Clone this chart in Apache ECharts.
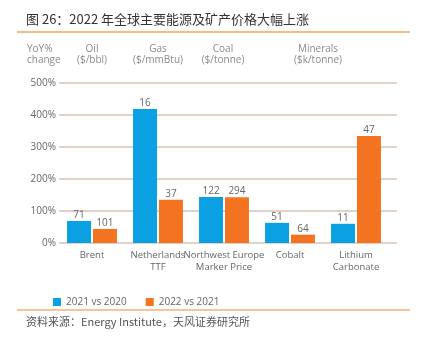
<!DOCTYPE html>
<html><head><meta charset="utf-8">
<script src="https://cdn.jsdelivr.net/npm/echarts@6/dist/echarts.min.js"></script>
<style>html,body{margin:0;padding:0;background:#fff;}#c{width:428px;height:339px;}</style>
</head><body><div id="c"></div>
<script>
const categories = ['Brent', 'Netherlands\nTTF', 'Northwest Europe\nMarker Price', 'Cobalt', 'Lithium\nCarbonate'];
const yoy2021 = [69, 419, 144, 63, 60];
const yoy2022 = [44, 135, 143, 26, 334];
const price2021 = [71, 16, 122, 51, 11];
const price2022 = [101, 37, 294, 64, 47];
const yTicks = [0, 100, 200, 300, 400, 500];
const seriesNames = ['2021 vs 2020', '2022 vs 2021'];
const headers = [
  {text: 'YoY%\nchange', x: 27, align: 'left'},
  {text: 'Oil\n($/bbl)', x: 92, align: 'center'},
  {text: 'Gas\n($/mmBtu)', x: 158, align: 'center'},
  {text: 'Coal\n($/tonne)', x: 223, align: 'center'},
  {text: 'Minerals\n($k/tonne)', x: 318, align: 'center'}
];
const blue = '#0AA0E2', orange = '#F47321', grey = '#666';
const font = '"Open Sans", "Noto Sans", sans-serif';
const chart = echarts.init(document.getElementById('c'), null, {renderer: 'canvas'});
const gTop = 83, gBottom = 339 - 243;
chart.setOption({
  animation: false,
  textStyle: {fontFamily: font},
  grid: [
    {left: 59, width: 330, top: gTop, bottom: gBottom},
    {left: 59, width: 338, top: gTop, bottom: gBottom}
  ],
  legend: {
    left: 48, top: 292, itemWidth: 8, itemHeight: 8, itemGap: 19, icon: 'rect',
    data: seriesNames,
    textStyle: {fontSize: 10, color: grey, fontFamily: font}
  },
  xAxis: [
    {type: 'category', gridIndex: 0, data: categories,
      axisLine: {show: false}, axisTick: {show: false},
      axisLabel: {fontSize: 9.5, color: grey, margin: 6, lineHeight: 12, interval: 0}},
    {type: 'category', gridIndex: 1, data: categories, show: false}
  ],
  yAxis: [
    {type: 'value', gridIndex: 0, min: 0, max: 500, interval: 100, show: false, splitLine: {show: false}},
    {type: 'value', gridIndex: 1, min: 0, max: 500, interval: 100,
      axisLine: {show: false}, axisTick: {show: false},
      axisLabel: {fontSize: 10, color: grey, margin: 3, formatter: v => yTicks.includes(v) ? v + '%' : ''},
      splitLine: {lineStyle: {color: '#DDD3CA', width: 2}}}
  ],
  series: [
    {name: seriesNames[0], type: 'bar', xAxisIndex: 0, yAxisIndex: 0, data: yoy2021,
      barWidth: 24, barGap: '8%', itemStyle: {color: blue},
      label: {show: true, position: 'top', distance: 1, fontSize: 10, color: grey,
        formatter: p => price2021[p.dataIndex]}},
    {name: seriesNames[1], type: 'bar', xAxisIndex: 0, yAxisIndex: 0, data: yoy2022,
      barWidth: 24, barGap: '8%', itemStyle: {color: orange},
      label: {show: true, position: 'top', distance: 1, fontSize: 10, color: grey,
        formatter: p => price2022[p.dataIndex]}}
  ],
  graphic: [
    {type: 'text', left: 26, top: 13, style: {text: '图 26：2022 年全球主要能源及矿产价格大幅上涨', font: '13px "Noto Sans CJK SC", sans-serif', fill: '#333'}},
    {type: 'line', shape: {x1: 17, y1: 32, x2: 410, y2: 32}, style: {stroke: '#F4A460', lineWidth: 1.5}},
    {type: 'line', shape: {x1: 17, y1: 310, x2: 410, y2: 310}, style: {stroke: '#F08A2E', lineWidth: 1}},
    {type: 'text', left: 26, top: 316, style: {text: '资料来源：Energy Institute，天风证券研究所', font: '11px "Noto Sans CJK SC", sans-serif', fill: '#555'}}
  ].concat(headers.map(h => ({
    type: 'text', x: h.x, y: 44,
    style: {text: h.text, font: '10px ' + font, fill: '#8a8a8a', align: h.align, verticalAlign: 'top', lineHeight: 11}
  })))
});
</script></body></html>
